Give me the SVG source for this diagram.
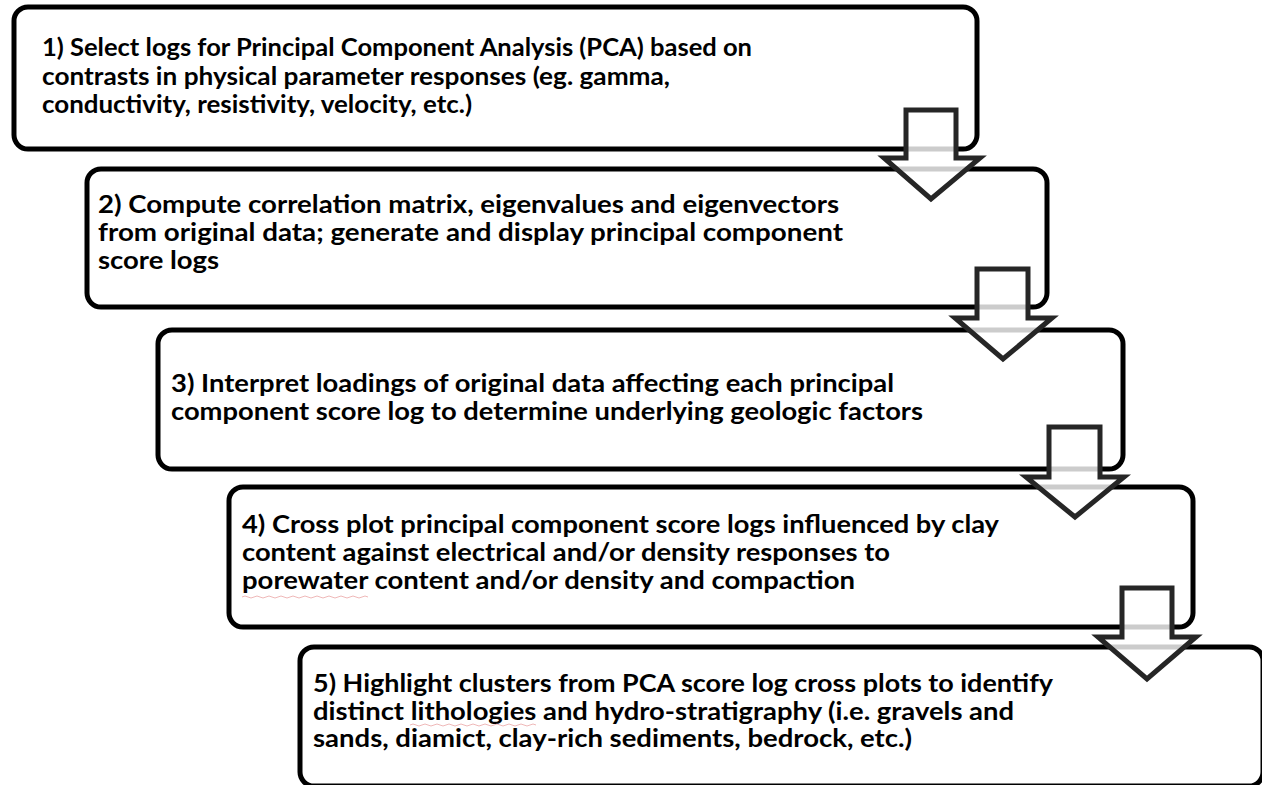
<svg xmlns="http://www.w3.org/2000/svg" width="1262" height="785" viewBox="0 0 1262 785">
<style>
.box{fill:#fff;stroke:#000;stroke-width:5}
.arr{fill:#fff;fill-opacity:0.8;stroke:#262626;stroke-width:5;stroke-linejoin:miter}
.t{font-family:Lato,"Liberation Sans",sans-serif;font-weight:bold;font-size:25px;fill:#000}
.t1{font-size:24px}
.sq{fill:none;stroke:#e89a9a;stroke-width:1;opacity:0.7}
</style>
<rect width="1262" height="785" fill="#fff"/>
<g id="node1">
<rect class="box" x="14" y="7" width="963" height="142" rx="14"/>
<text class="t t1" x="42" y="56" textLength="710" lengthAdjust="spacingAndGlyphs">1) Select logs for Principal Component Analysis (PCA) based on</text>
<text class="t t1" x="42" y="85" textLength="628" lengthAdjust="spacingAndGlyphs">contrasts in physical parameter responses (eg. gamma,</text>
<text class="t t1" x="42" y="113" textLength="430" lengthAdjust="spacingAndGlyphs">conductivity, resistivity, velocity, etc.)</text>
</g>
<g id="node2">
<rect class="box" x="87" y="169" width="960" height="138" rx="14"/>
<text class="t" x="98" y="213" textLength="741" lengthAdjust="spacingAndGlyphs">2) Compute correlation matrix, eigenvalues and eigenvectors</text>
<text class="t" x="98" y="241" textLength="745" lengthAdjust="spacingAndGlyphs">from original data; generate and display principal component</text>
<text class="t" x="98" y="269" textLength="121" lengthAdjust="spacingAndGlyphs">score logs</text>
</g>
<g id="node3">
<rect class="box" x="158" y="330" width="965" height="139" rx="14"/>
<text class="t" x="171" y="392" textLength="723" lengthAdjust="spacingAndGlyphs">3) Interpret loadings of original data affecting each principal</text>
<text class="t" x="171" y="420" textLength="752" lengthAdjust="spacingAndGlyphs">component score log to determine underlying geologic factors</text>
</g>
<g id="node4">
<rect class="box" x="229" y="487" width="964" height="140" rx="14"/>
<text class="t" x="242" y="533" textLength="757" lengthAdjust="spacingAndGlyphs">4) Cross plot principal component score logs influenced by clay</text>
<text class="t" x="242" y="561" textLength="648" lengthAdjust="spacingAndGlyphs">content against electrical and/or density responses to</text>
<text class="t" x="242" y="589" textLength="613" lengthAdjust="spacingAndGlyphs">porewater content and/or density and compaction</text>
<path class="sq" d="M242,597 q3,-2 6,0 t6,0 t6,0 t6,0 t6,0 t6,0 t6,0 t6,0 t6,0 t6,0 t6,0 t6,0 t6,0 t6,0 t6,0 t6,0 t6,0 t6,0 t6,0 t6,0 t6,0"/>
</g>
<g id="node5">
<rect class="box" x="300" y="647" width="963" height="139" rx="14"/>
<text class="t" x="313" y="692" textLength="740" lengthAdjust="spacingAndGlyphs">5) Highlight clusters from PCA score log cross plots to identify</text>
<text class="t" x="313" y="719.5" textLength="701" lengthAdjust="spacingAndGlyphs">distinct lithologies and hydro-stratigraphy (i.e. gravels and</text>
<text class="t" x="313" y="747" textLength="599" lengthAdjust="spacingAndGlyphs">sands, diamict, clay-rich sediments, bedrock, etc.)</text>
<path class="sq" d="M410,725 q3,-2 6,0 t6,0 t6,0 t6,0 t6,0 t6,0 t6,0 t6,0 t6,0 t6,0 t6,0 t6,0 t6,0 t6,0 t6,0 t6,0 t6,0 t6,0 t6,0 t6,0 t6,0"/>
</g>
<g id="connectors">
<path class="arr" d="M906,110 H956 V158 H980 L931,199 L884,158 H906 Z"/>
<path class="arr" d="M977,269 H1028 V318 H1052 L1003,359 L955,318 H977 Z"/>
<path class="arr" d="M1049,427 H1100 V477 H1124 L1075,517 L1026,477 H1049 Z"/>
<path class="arr" d="M1122,588 H1172 V637 H1196 L1147,679 L1098,637 H1122 Z"/>
</g>
</svg>
